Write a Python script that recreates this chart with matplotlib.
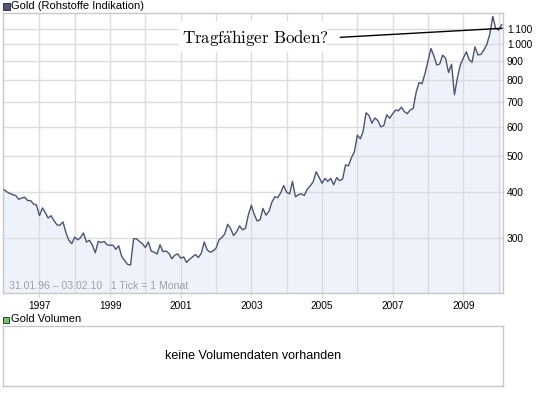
import numpy as np
import pandas as pd
import matplotlib
matplotlib.use('Agg')
import matplotlib.pyplot as plt
from matplotlib.patches import Rectangle
from matplotlib.lines import Line2D
from matplotlib.ticker import FixedLocator, FuncFormatter

plt.rcParams['font.family'] = 'Liberation Sans'
plt.rcParams['mathtext.fontset'] = 'cm'

# Gold, monthly close (USD/oz), Jan 1996 - Feb 2010
p1996 = [405, 400, 396, 393, 391, 382, 385, 387, 379, 379, 371, 369]
p1997 = [345, 362, 352, 340, 345, 334, 326, 325, 332, 311, 296, 290]
p1998 = [302, 297, 301, 310, 293, 296, 288, 274, 294, 292, 294, 288]
p1999 = [287, 287, 280, 286, 268, 261, 255, 254, 299, 299, 294, 290]
p2000 = [283, 293, 277, 275, 272, 288, 276, 277, 273, 264, 270, 272]
p2001 = [265, 267, 258, 263, 267, 271, 266, 273, 293, 279, 275, 277]
p2002 = [282, 297, 301, 308, 327, 318, 305, 312, 324, 316, 319, 347]
p2003 = [368, 347, 334, 336, 361, 346, 354, 375, 388, 386, 398, 416]
p2004 = [399, 395, 427, 388, 393, 395, 391, 407, 415, 426, 453, 438]
p2005 = [422, 435, 427, 435, 418, 437, 429, 433, 473, 470, 495, 513]
p2006 = [569, 556, 582, 654, 643, 613, 633, 623, 599, 604, 646, 632]
p2007 = [650, 665, 662, 677, 659, 650, 665, 672, 743, 789, 783, 834]
p2008 = [900, 975, 933, 880, 885, 935, 918, 840, 884, 731, 814, 880]
p2009 = [919, 955, 910, 895, 985, 937, 939, 966, 1000, 1065, 1190, 1105]
p2010 = [1093, 1130]

prices = np.array(p1996 + p1997 + p1998 + p1999 + p2000 + p2001 + p2002 + p2003
                  + p2004 + p2005 + p2006 + p2007 + p2008 + p2009 + p2010)
dates = pd.date_range('1996-01-01', periods=len(prices), freq='MS')

ytick_vals = [300, 400, 500, 600, 700, 800, 900, 1000, 1100]
grid_years = list(range(1997, 2011))
label_years = list(range(1997, 2010, 2))

W, H = 545, 395
fig = plt.figure(figsize=(W / 100, H / 100), dpi=100)
fig.patch.set_facecolor('white')

def fx(px):
    return px / W

def fy(py):
    return 1 - py / H

def yearnum(y):
    # matplotlib date number of Jan 1st
    return pd.Timestamp(f'{y}-01-01').toordinal() - 719163

line_col = '#4b5573'
fill_col = '#eef2fb'
grid_col = '#dcdcdc'
frame_col = '#c8c8c8'

# main price chart
ax = fig.add_axes([fx(2.7), fy(293.3), fx(503.3 - 2.7), (293.3 - 13.3) / H])
ax.fill_between(dates, prices, 1, color=fill_col, lw=0, zorder=1)
ax.plot(dates, prices, color=line_col, lw=1.0, zorder=3)
ax.set_yscale('log')
ax.set_ylim(213, 1213)
ax.set_xlim(pd.Timestamp('1995-12-18'), pd.Timestamp('2010-02-18'))

ax.yaxis.set_major_locator(FixedLocator(ytick_vals))
ax.yaxis.set_minor_locator(FixedLocator([]))
ax.yaxis.set_major_formatter(FuncFormatter(lambda v, p: f'{int(round(v)):,}'.replace(',', '.')))
ax.yaxis.tick_right()
ax.xaxis.set_major_locator(FixedLocator([yearnum(y) for y in label_years]))
ax.xaxis.set_minor_locator(FixedLocator([yearnum(y) for y in grid_years]))
ax.xaxis.set_major_formatter(FuncFormatter(lambda v, p: str(label_years[p]) if p is not None and p < len(label_years) else ''))
ax.tick_params(axis='y', which='both', length=0, labelsize=7.3, pad=2.5)
ax.tick_params(axis='x', which='minor', length=0)
ax.tick_params(axis='x', which='major', length=3.5, width=1, color=grid_col, labelsize=7.3, pad=2)
ax.grid(True, which='both', axis='x', color=grid_col, lw=1, zorder=2)
ax.grid(True, which='major', axis='y', color=grid_col, lw=1, zorder=2)
for s in ax.spines.values():
    s.set_color(frame_col)
    s.set_linewidth(1)

fig.text(fx(9.3), fy(285.7), '31.01.96 \u2013 03.02.10   1 Tick = 1 Monat',
         fontsize=7.6, color='#a0a0a0', ha='left', va='center')

# annotation
fig.patches.append(Rectangle((fx(178.5), fy(51.5)), fx(326.5 - 178.5), (51.5 - 21) / H,
                             transform=fig.transFigure, facecolor='white', edgecolor='none', zorder=5))
fig.text(fx(181.7), fy(42.7), r'$\mathrm{Tragf\ddot{a}higer\ Boden?}$', fontsize=12.2,
         ha='left', va='baseline', color='black', zorder=6)
fig.add_artist(Line2D([fx(340.5), fx(502)], [fy(37.3), fy(28.3)], transform=fig.transFigure,
                      color='black', lw=1, zorder=6))

# legend squares and titles
fig.patches.append(Rectangle((fx(3), fy(9.6)), fx(6.6), 6.6 / H, transform=fig.transFigure,
                             facecolor='#4d5874', edgecolor='#222222', lw=0.6))
fig.text(fx(11), fy(6.3), 'Gold (Rohstoffe Indikation)', fontsize=8, ha='left', va='center')

fig.patches.append(Rectangle((fx(3.2), fy(322.8)), fx(6.2), 6.2 / H, transform=fig.transFigure,
                             facecolor='#66cc66', edgecolor='#222222', lw=0.6))
fig.text(fx(10.8), fy(319.5), 'Gold Volumen', fontsize=8, ha='left', va='center')

# empty volume panel
vax = fig.add_axes([fx(2.7), fy(386), fx(503.3 - 2.7), (386 - 326) / H])
vax.set_xticks([])
vax.set_yticks([])
for s in vax.spines.values():
    s.set_color(frame_col)
    s.set_linewidth(1)
vax.text(0.5, 0.5, 'keine Volumendaten vorhanden', transform=vax.transAxes,
         ha='center', va='center', fontsize=9)

fig.savefig('out.png', dpi=100)
